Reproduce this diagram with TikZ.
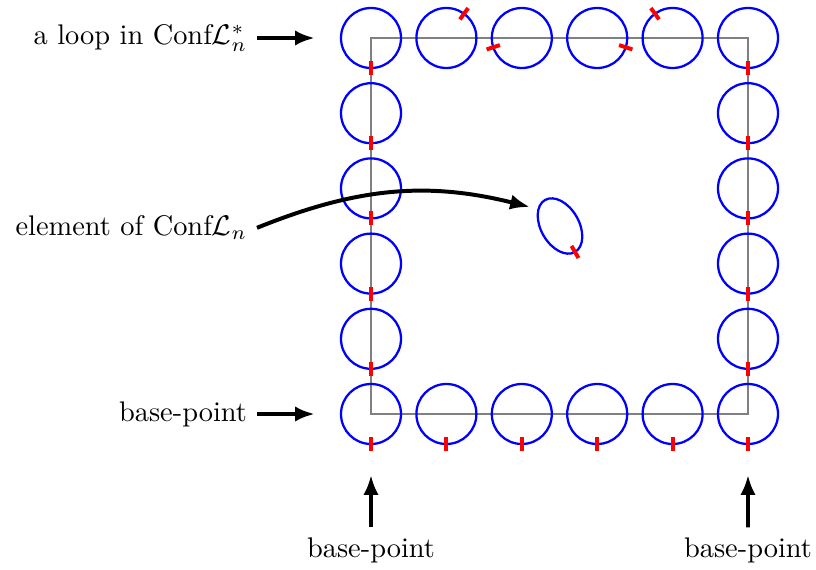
\documentclass[tikz,border=0pt]{standalone}
\usetikzlibrary{calc,arrows.meta,shapes.geometric}
\begin{document}
\begin{tikzpicture}[x=0.3523pt,y=0.3523pt,
  loopc/.style={circle,draw=blue,line width=0.8pt,minimum size=21.14pt,inner sep=0pt},
  ticksty/.style={red,line width=1.4pt},
  sqpath/.style={gray,line width=0.6pt},
  arr/.style={-{Latex[length=7pt,width=5.4pt]},line width=1.4pt}]
\useasboundingbox (0,0) rectangle (816,569);
\coordinate (TL) at (371,531);
\coordinate (BR) at (748,155);
\draw[sqpath] (TL) rectangle (BR);
\foreach \k in {0,...,5}{
  \node[loopc] (T\k) at ({371+75.4*\k},531) {};
  \draw[ticksty] ($(T\k.center)+({-90+144*\k}:23)$) -- ($(T\k.center)+({-90+144*\k}:37)$);
  \node[loopc] (B\k) at ({371+75.4*\k},155) {};
  \draw[ticksty] ($(B\k.center)+(-90:23)$) -- ($(B\k.center)+(-90:37)$);
}
\foreach \j in {1,...,4}{
  \node[loopc] (L\j) at (371,{531-75.2*\j}) {};
  \draw[ticksty] ($(L\j.center)+(-90:23)$) -- ($(L\j.center)+(-90:37)$);
  \node[loopc] (R\j) at (748,{531-75.2*\j}) {};
  \draw[ticksty] ($(R\j.center)+(-90:23)$) -- ($(R\j.center)+(-90:37)$);
}
% element
\node[ellipse,draw=blue,line width=0.8pt,minimum width=21.14pt,minimum height=13.4pt,inner sep=0pt,rotate=-60] (E) at (560,343) {};
\draw[ticksty] ($(E.center)+(-60:23)$) -- ($(E.center)+(-60:37)$);
\coordinate (Etip) at (530,362);
% labels
\node[anchor=east] (lloop) at (257,531) {a loop in Conf$\mathcal{L}_n^*$};
\draw[arr,shorten >=8.8pt] (lloop.east) -- (T0.west);
\node[anchor=base east] (lelem) at (257,333.3) {element of Conf$\mathcal{L}_n$};
\draw[arr] (lelem.east) to[out=22,in=166] (Etip);
\node[anchor=east] (lbase) at (257,155) {base-point};
\draw[arr,shorten >=8.8pt] (lbase.east) -- (B0.west);
\node (bp1) at (371,19) {base-point};
\node (bp2) at (748,19) {base-point};
\draw[arr,shorten >=10.5pt] (bp1.north) -- (B0.south);
\draw[arr,shorten >=10.5pt] (bp2.north) -- (B5.south);
\end{tikzpicture}
\end{document}
